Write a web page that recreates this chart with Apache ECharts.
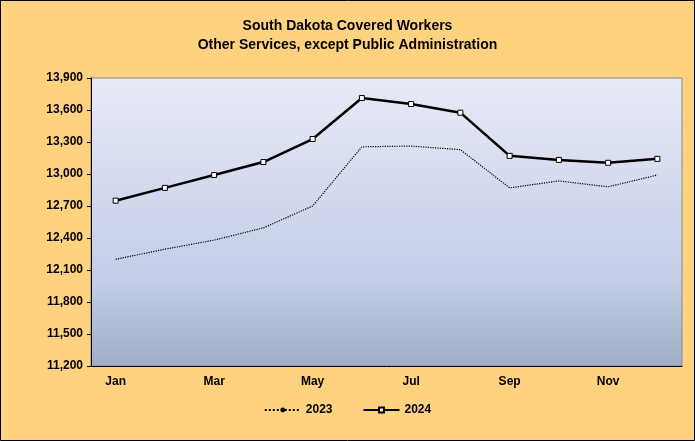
<!DOCTYPE html>
<html><head><meta charset="utf-8">
<script src="https://cdn.jsdelivr.net/npm/echarts@6/dist/echarts.min.js"></script>
<style>html,body{margin:0;padding:0;}#c{width:695px;height:441px;}</style>
</head><body><div id="c"></div>
<script>
var months = ['Jan','Feb','Mar','Apr','May','Jun','Jul','Aug','Sep','Oct','Nov','Dec'];
var data2023 = [12200,12295,12380,12495,12700,13255,13262,13228,12870,12935,12880,12990];
var data2024 = [12750,12870,12990,13112,13328,13712,13656,13575,13170,13132,13105,13142];
var yTicks = {min:11200, max:13900, interval:300};
var chart = echarts.init(document.getElementById('c'));
chart.setOption({
  backgroundColor:'#FFD280',
  textStyle:{fontFamily:'Arial, Liberation Sans, sans-serif'},
  graphic:[{type:'rect',shape:{x:0.5,y:0.5,width:694,height:440},style:{fill:'none',stroke:'#000',lineWidth:1}}],
  title:{text:'South Dakota Covered Workers\nOther Services, except Public Administration',left:'center',top:12,
    textStyle:{fontSize:14,fontWeight:'bold',color:'#000',lineHeight:19}},
  grid:{left:91,right:13,top:78,bottom:75,show:true,borderColor:'#888',borderWidth:1,
    backgroundColor:new echarts.graphic.LinearGradient(0,0,0,1,[{offset:0,color:'#E8EAF7'},{offset:0.7,color:'#C3CDE6'},{offset:1,color:'#9FAEC6'}])},
  legend:{bottom:20,left:'center',itemWidth:36,itemHeight:6,itemGap:30,textStyle:{fontSize:12,fontWeight:'bold',color:'#000'},
    data:['2023','2024']},
  xAxis:{type:'category',data:months,boundaryGap:true,
    axisLine:{lineStyle:{color:'#000'}},axisTick:{show:false},
    axisLabel:{interval:1,color:'#000',fontWeight:'bold',fontSize:12,margin:10}},
  yAxis:{type:'value',min:yTicks.min,max:yTicks.max,interval:yTicks.interval,
    axisLine:{show:true,lineStyle:{color:'#000'}},axisTick:{show:true,length:4,lineStyle:{color:'#000'}},
    splitLine:{show:false},
    axisLabel:{color:'#000',fontWeight:'bold',fontSize:12,formatter:function(v){return v.toLocaleString('en-US');}}},
  series:[
    {name:'2023',type:'line',data:data2023,symbol:'none',lineStyle:{color:'#000',width:1.2,type:'dotted'},itemStyle:{color:'#000'}},
    {name:'2024',type:'line',data:data2024,symbol:'rect',symbolSize:5,lineStyle:{color:'#000',width:2.5},
     itemStyle:{color:'#fff',borderColor:'#000',borderWidth:1}}
  ]
});
</script></body></html>
